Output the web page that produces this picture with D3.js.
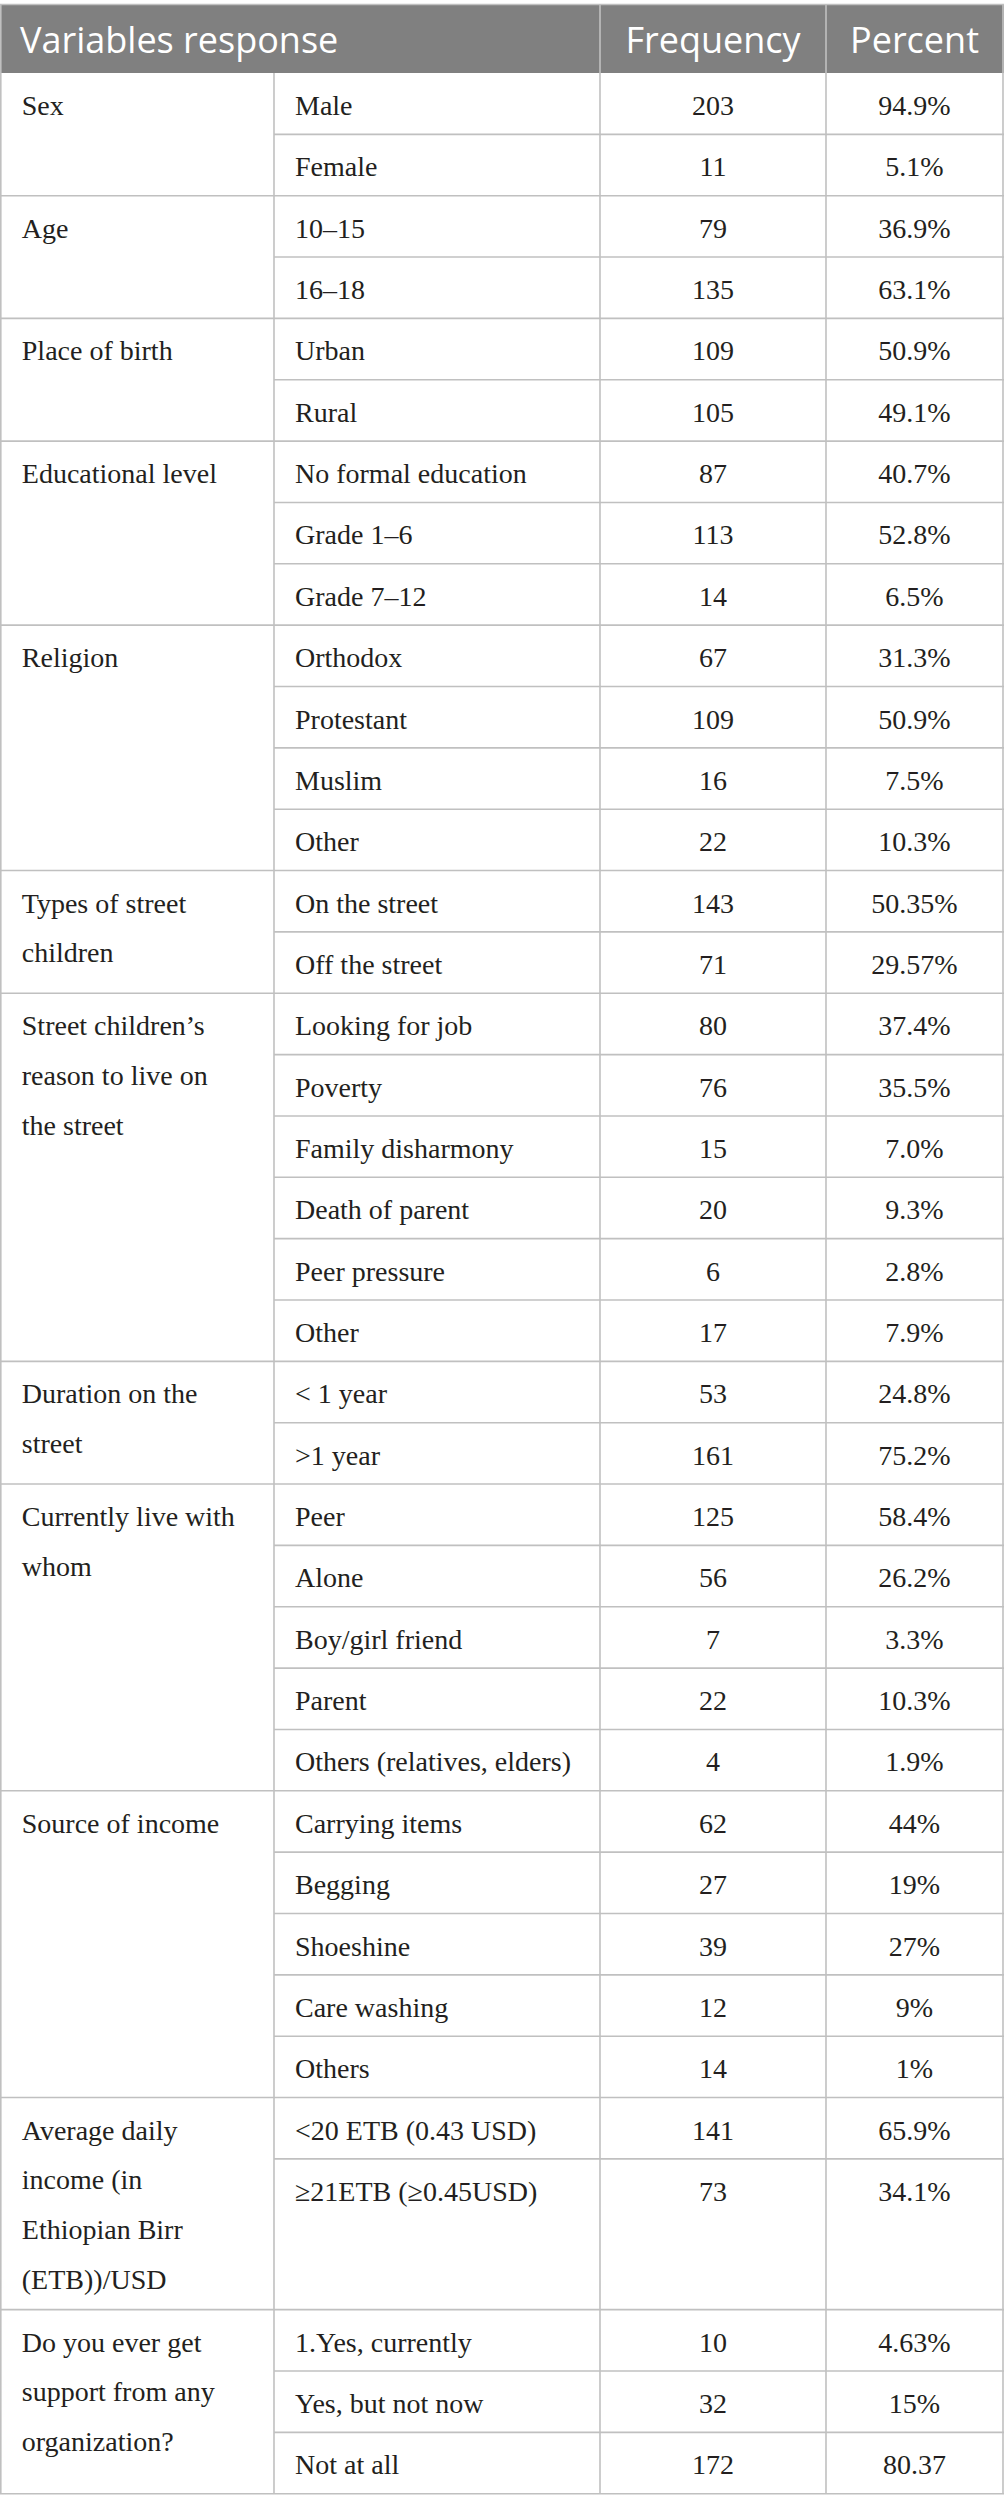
<!DOCTYPE html>
<html>
<head>
<meta charset="utf-8">
<script src="https://cdn.jsdelivr.net/npm/d3@7"></script>
<style>
  html, body { margin: 0; padding: 0; background: #fff; }
  .head { font-family: "Open Sans", sans-serif; font-size: 36px; fill: #fff; }
  .cell { font-family: "Liberation Serif", serif; font-size: 28px; fill: #231f20; }
  .rule { stroke: #c0c0c0; stroke-width: 1.6; }
</style>
</head>
<body>
<div id="table"></div>
<script>
const headers = ["Variables response", "Frequency", "Percent"];

const variables = [
    "Sex",
    "Age",
    "Place of birth",
    "Educational level",
    "Religion",
    "Types of street\nchildren",
    "Street children\u2019s\nreason to live on\nthe street",
    "Duration on the\nstreet",
    "Currently live with\nwhom",
    "Source of income",
    "Average daily\nincome (in\nEthiopian Birr\n(ETB))/USD",
    "Do you ever get\nsupport from any\norganization?"
];

const responses = [
    ["Male", "Female"],
    ["10\u201315", "16\u201318"],
    ["Urban", "Rural"],
    ["No formal education", "Grade 1\u20136", "Grade 7\u201312"],
    ["Orthodox", "Protestant", "Muslim", "Other"],
    ["On the street", "Off the street"],
    ["Looking for job", "Poverty", "Family disharmony", "Death of parent", "Peer pressure", "Other"],
    ["< 1 year", ">1 year"],
    ["Peer", "Alone", "Boy/girl friend", "Parent", "Others (relatives, elders)"],
    ["Carrying items", "Begging", "Shoeshine", "Care washing", "Others"],
    ["<20 ETB (0.43 USD)", "\u226521ETB (\u22650.45USD)"],
    ["1.Yes, currently", "Yes, but not now", "Not at all"]
];

const frequencies = [
    [203, 11],
    [79, 135],
    [109, 105],
    [87, 113, 14],
    [67, 109, 16, 22],
    [143, 71],
    [80, 76, 15, 20, 6, 17],
    [53, 161],
    [125, 56, 7, 22, 4],
    [62, 27, 39, 12, 14],
    [141, 73],
    [10, 32, 172]
];

const percents = [
    ["94.9%", "5.1%"],
    ["36.9%", "63.1%"],
    ["50.9%", "49.1%"],
    ["40.7%", "52.8%", "6.5%"],
    ["31.3%", "50.9%", "7.5%", "10.3%"],
    ["50.35%", "29.57%"],
    ["37.4%", "35.5%", "7.0%", "9.3%", "2.8%", "7.9%"],
    ["24.8%", "75.2%"],
    ["58.4%", "26.2%", "3.3%", "10.3%", "1.9%"],
    ["44%", "19%", "27%", "9%", "1%"],
    ["65.9%", "34.1%"],
    ["4.63%", "15%", "80.37"]
];

const W = 1004, H = 2512;
const tableTop = 4.5, headH = 68.5, rowH = 61.35;
const padX = 21, baseOff = 42, lineH = 49.7, padBottom = 21;

// column edges
const x = d3.scaleOrdinal().domain(["c0", "c1", "c2", "c3", "c4"]).range([0.8, 274, 600, 826, 1003]);

// build rows; a group taller than its rows stretches its last row
const rows = [];
const groupsLaid = [];
let yPos = tableTop + headH;
variables.forEach((v, gi) => {
    const lines = v.split("\n");
    const n = responses[gi].length;
    const need = baseOff + (lines.length - 1) * lineH + padBottom;
    const extra = Math.max(0, need - n * rowH);
    const g0 = yPos;
    responses[gi].forEach((r, ri) => {
        const h = rowH + (ri === n - 1 ? extra : 0);
        rows.push({y: yPos, h: h, resp: r, freq: frequencies[gi][ri], pct: percents[gi][ri], last: ri === n - 1});
        yPos += h;
    });
    groupsLaid.push({y: g0, h: yPos - g0, lines: lines});
});
const tableBottom = yPos;

const svg = d3.select("#table").append("svg")
    .attr("width", W)
    .attr("height", H)
    .style("display", "block");

svg.append("rect").attr("width", W).attr("height", H).attr("fill", "#fff");

// header
svg.append("rect")
    .attr("x", 0).attr("y", tableTop)
    .attr("width", W).attr("height", headH)
    .attr("fill", "#808080");

svg.append("text").attr("class", "head")
    .attr("x", 20).attr("y", 53)
    .text(headers[0]);
svg.append("text").attr("class", "head")
    .attr("x", (x("c2") + x("c3")) / 2).attr("y", 53)
    .attr("text-anchor", "middle")
    .text(headers[1]);
svg.append("text").attr("class", "head")
    .attr("x", (x("c3") + x("c4")) / 2).attr("y", 53)
    .attr("text-anchor", "middle")
    .text(headers[2]);

// rules
svg.append("line").attr("class", "rule")
    .attr("x1", 0).attr("x2", W).attr("y1", tableTop).attr("y2", tableTop);

[["c0", tableTop], ["c2", tableTop], ["c3", tableTop], ["c4", tableTop], ["c1", tableTop + headH]].forEach(([c, y0]) => {
    svg.append("line").attr("class", "rule")
        .attr("x1", x(c)).attr("x2", x(c))
        .attr("y1", y0).attr("y2", tableBottom);
});

svg.selectAll(".hrule")
    .data(rows)
    .enter().append("line")
    .attr("class", "rule")
    .attr("x1", d => d.last ? 0 : x("c1"))
    .attr("x2", W)
    .attr("y1", d => d.y + d.h)
    .attr("y2", d => d.y + d.h);

// variable names
const gt = svg.selectAll(".gname")
    .data(groupsLaid)
    .enter().append("text")
    .attr("class", "cell");
gt.selectAll("tspan")
    .data(d => d.lines.map((t, i) => ({t: t, y: d.y + baseOff + i * lineH})))
    .enter().append("tspan")
    .attr("x", x("c0") + padX)
    .attr("y", d => d.y)
    .text(d => d.t);

// response cells
svg.selectAll(".resp")
    .data(rows)
    .enter().append("text")
    .attr("class", "cell")
    .attr("x", x("c1") + padX)
    .attr("y", d => d.y + baseOff)
    .text(d => d.resp);

svg.selectAll(".freq")
    .data(rows)
    .enter().append("text")
    .attr("class", "cell")
    .attr("text-anchor", "middle")
    .attr("x", (x("c2") + x("c3")) / 2)
    .attr("y", d => d.y + baseOff)
    .text(d => d.freq);

svg.selectAll(".pct")
    .data(rows)
    .enter().append("text")
    .attr("class", "cell")
    .attr("text-anchor", "middle")
    .attr("x", (x("c3") + x("c4")) / 2)
    .attr("y", d => d.y + baseOff)
    .text(d => d.pct);
</script>
</body>
</html>
